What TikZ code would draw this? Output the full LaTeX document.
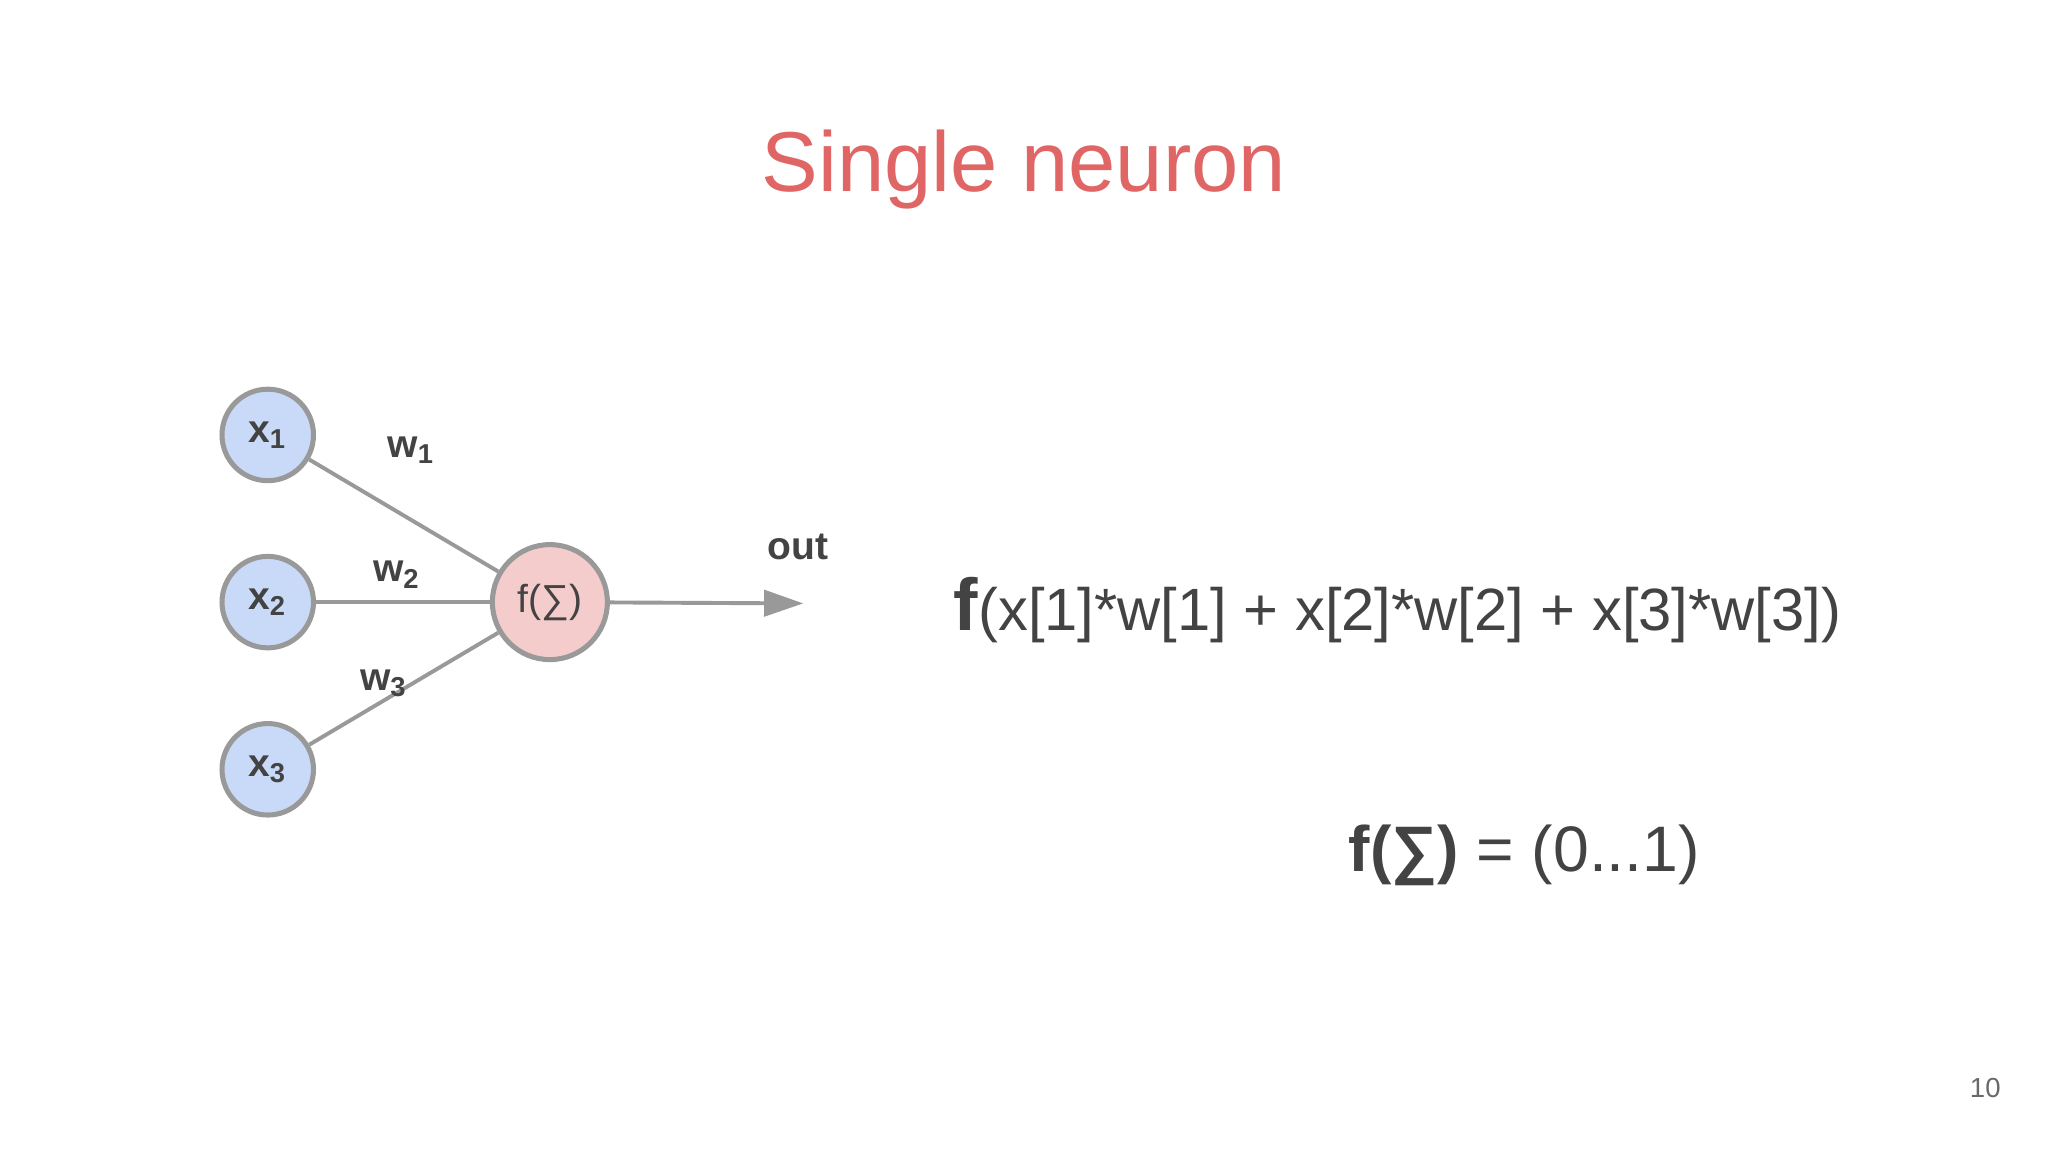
\documentclass[tikz,border=0pt]{standalone}
\usepackage{fontspec}
\setmainfont{Liberation Sans}
\usetikzlibrary{arrows.meta}
\definecolor{titlered}{HTML}{E06666}
\definecolor{txt}{HTML}{434343}
\definecolor{edge}{HTML}{999999}
\definecolor{inblue}{HTML}{C9DAF8}
\definecolor{outpink}{HTML}{F4CCCC}
\begin{document}
\begin{tikzpicture}[x=0.01cm,y=-0.01cm,
  inp/.style={circle,draw=edge,line width=1.1pt,fill=inblue,minimum size=0.7cm,inner sep=0pt,text=txt,font=\fontsize{8.5}{10}\selectfont\bfseries},
  neu/.style={circle,draw=edge,line width=1.1pt,fill=outpink,minimum size=0.88cm,inner sep=0pt,text=txt,font=\fontsize{8.5}{10}\selectfont},
  conn/.style={draw=edge,line width=0.85pt},
  lab/.style={text=txt,font=\fontsize{8.5}{10}\selectfont\bfseries}]
\useasboundingbox (0,0) rectangle (1568,882);
\node[text=titlered,font=\fontsize{18.5}{22}\selectfont] (title) at (784,130) {Single neuron};
\node[inp] (x1) at (205,333) {x\textsubscript{1}};
\node[inp] (x2) at (205,461) {x\textsubscript{2}};
\node[inp] (x3) at (205,589) {x\textsubscript{3}};
\node[neu] (f) at (421,461) {f(∑)};
\coordinate (o) at (615,462);
\draw[conn] (x1) -- (f);
\draw[conn] (x2) -- (f);
\draw[conn] (x3) -- (f);
\draw[conn,-{Triangle[length=0.3cm,width=0.2cm]}] (f) -- (o);
\node[lab] (w1) at (315,345) {w\textsubscript{1}};
\node[lab] (w2) at (304,440) {w\textsubscript{2}};
\node[lab] (w3) at (294,523) {w\textsubscript{3}};
\node[lab] (out) at (611,419) {out};
\node[text=txt,font=\fontsize{13}{16}\selectfont] (eq1) at (1070,467) {{\fontsize{16}{18}\selectfont\bfseries f}(x[1]*w[1] + x[2]*w[2] + x[3]*w[3])};
\node[text=txt,font=\fontsize{14}{17}\selectfont] (eq2) at (1167,655) {\textbf{f(∑)} = (0...1)};
\node[text=txt!80,font=\fontsize{6}{7}\selectfont] (pg) at (1520,833) {10};
\end{tikzpicture}
\end{document}
